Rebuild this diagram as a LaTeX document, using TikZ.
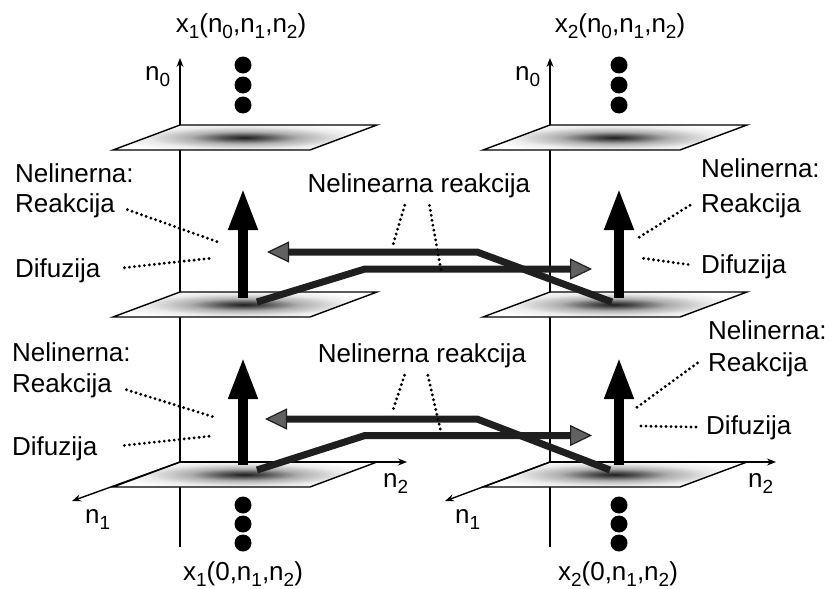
\documentclass[tikz,border=0pt]{standalone}
\usepackage{fontspec}
\setmainfont{Liberation Sans}
\usetikzlibrary{arrows.meta}
\newcommand\ix[1]{\raisebox{-6.5pt}{\fontsize{19}{19}\selectfont #1}}
\pgfdeclareradialshading{spot}{\pgfpoint{0bp}{0bp}}{color(0bp)=(black!88); color(4bp)=(black!68); color(10bp)=(black!32); color(18bp)=(black!8); color(25bp)=(white); color(50bp)=(white)}
\tikzset{
  ax/.style={draw=black,line width=1.4pt},
  axa/.style={ax,-{Stealth[length=9pt,width=7pt]}},
  pln/.style={draw=black,line width=1.4pt},
  dt/.style={circle,fill=black,minimum size=17pt,inner sep=0pt},
  flux/.style={-{Triangle[length=42pt,width=27pt]},line width=10pt,draw=black},
  rxn/.style={-{Triangle[length=22pt,width=21pt,line width=1.2pt,fill=black!62]},line width=7pt,draw=black!88},
  ldr/.style={draw=black,line width=3.2pt,line cap=round,dash pattern=on 0pt off 5pt},
  lb/.style={font=\fontsize{26}{30}\selectfont,inner sep=0pt},
}
% one plane of the lattice, (#1,#2) is its back left corner
\newcommand\plane[2]{%
  \begin{scope}
    \clip (#1,#2) -- ++(197,0) -- ++(-67,25) -- ++(-197,0) -- cycle;
    \fill[white] (#1-70,#2-2) rectangle (#1+200,#2+27);
    \shade[shading=spot] (#1+64,#2+12.5) ellipse (135 and 15);
  \end{scope}
  \draw[pln] (#1,#2) -- ++(197,0) -- ++(-67,25) -- ++(-197,0) -- cycle;}

\begin{document}
\begin{tikzpicture}[x=1pt,y=-1pt]
\useasboundingbox (0,0) rectangle (833,589);
% ---------------- the n0 axes and the planes
\draw[axa] (180,547) -- (180,58);
\draw[axa] (550,547) -- (550,58);
\plane{180}{125} \plane{180}{292} \plane{180}{462}
\plane{550}{125} \plane{550}{292} \plane{550}{462}
\draw[axa] (180,462) -- (407,462);
\draw[axa] (180,462) -- (72,501);
\draw[axa] (550,462) -- (776,462);
\draw[axa] (550,462) -- (445,501);
\node[lb,anchor=base west] (za) at (145,80) {n\ix{0}};
\node[lb,anchor=base west] (zb) at (515,80) {n\ix{0}};
\node[lb,anchor=base west] (va) at (383,487) {n\ix{2}};
\node[lb,anchor=base west] (vb) at (748,487) {n\ix{2}};
\node[lb,anchor=base west] (ua) at (85,523) {n\ix{1}};
\node[lb,anchor=base west] (ub) at (455,523) {n\ix{1}};
% ---------------- the planes not drawn
\foreach \y in {65,85,105,505,524,543} {
  \node[dt] (pa\y) at (243,\y) {};
  \node[dt] (pb\y) at (619,\y) {};
}
\node[lb,anchor=base] (ta) at (241,32) {x\ix{1}(n\ix{0},n\ix{1},n\ix{2})};
\node[lb,anchor=base] (tb) at (620,32) {x\ix{2}(n\ix{0},n\ix{1},n\ix{2})};
\node[lb,anchor=base] (ba) at (243,580) {x\ix{1}(0,n\ix{1},n\ix{2})};
\node[lb,anchor=base] (bb) at (618,580) {x\ix{2}(0,n\ix{1},n\ix{2})};
% ---------------- diffusion and reaction along n0
\coordinate (fa1) at (243,298); \coordinate (ga1) at (243,188);
\coordinate (fb1) at (619,298); \coordinate (gb1) at (619,188);
\coordinate (fa2) at (243,465); \coordinate (ga2) at (243,357);
\coordinate (fb2) at (619,465); \coordinate (gb2) at (619,357);
\draw[flux] (fa1) -- (ga1); \draw[flux] (fb1) -- (gb1);
\draw[flux] (fa2) -- (ga2); \draw[flux] (fb2) -- (gb2);
% ---------------- nonlinear coupling x1 <-> x2
\coordinate (la1) at (612,302); \coordinate (lk1) at (477,252); \coordinate (le1) at (267,252);
\coordinate (ra1) at (257,302); \coordinate (rk1) at (365,269); \coordinate (re1) at (592,269);
\coordinate (la2) at (610,470); \coordinate (lk2) at (477,419); \coordinate (le2) at (265,419);
\coordinate (ra2) at (257,470); \coordinate (rk2) at (365,435.5); \coordinate (re2) at (592,435.5);
\draw[rxn] (la1) -- (lk1) -- (le1);
\draw[rxn] (ra1) -- (rk1) -- (re1);
\draw[rxn] (la2) -- (lk2) -- (le2);
\draw[rxn] (ra2) -- (rk2) -- (re2);
% ---------------- labels
\node[lb,anchor=base west] (na1) at (15,182) {Nelinerna:};
\node[lb,anchor=base west] (ka1) at (15,212) {Reakcija};
\node[lb,anchor=base west] (da1) at (15,277) {Difuzija};
\node[lb,anchor=base west] (na2) at (12,361) {Nelinerna:};
\node[lb,anchor=base west] (ka2) at (12,392) {Reakcija};
\node[lb,anchor=base west] (da2) at (12,455) {Difuzija};
\node[lb,anchor=base west] (nb1) at (701,177) {Nelinerna:};
\node[lb,anchor=base west] (kb1) at (701,212) {Reakcija};
\node[lb,anchor=base west] (db1) at (701,273) {Difuzija};
\node[lb,anchor=base west] (nb2) at (708,339) {Nelinerna:};
\node[lb,anchor=base west] (kb2) at (708,371) {Reakcija};
\node[lb,anchor=base west] (db2) at (706,434) {Difuzija};
\node[lb,anchor=base] (nr1) at (419,192) {Nelinearna reakcija};
\node[lb,anchor=base] (nr2) at (422,362) {Nelinerna reakcija};
% ---------------- dotted leaders
\coordinate (cka1) at (218,242); \coordinate (cda1) at (213,258);
\coordinate (cka2) at (217,418); \coordinate (cda2) at (212,436);
\coordinate (ckb1) at (638,238); \coordinate (cdb1) at (641,258);
\coordinate (ckb2) at (636,408); \coordinate (cdb2) at (640,426);
\draw[ldr,shorten <=13pt] (ka1.east) -- (cka1);
\draw[ldr,shorten <=24pt] (da1.east) -- (cda1);
\draw[ldr,shorten <=15pt] (ka2.east) -- (cka2);
\draw[ldr,shorten <=27pt] (da2.east) -- (cda2);
\draw[ldr,shorten <=13pt] ([yshift=7pt]kb1.west) -- (ckb1);
\draw[ldr,shorten <=13pt] (db1.west) -- (cdb1);
\draw[ldr,shorten <=13pt] ([yshift=9pt]kb2.west) -- (ckb2);
\draw[ldr,shorten <=10pt] (db2.west) -- (cdb2);
\coordinate (cr1) at (392,248); \coordinate (cs1) at (441,270);
\coordinate (cr2) at (393,410); \coordinate (cs2) at (441,432);
\draw[ldr,shorten <=8pt] ([xshift=-12pt]nr1.south) -- (cr1);
\draw[ldr,shorten <=8pt] ([xshift=9pt]nr1.south) -- (cs1);
\draw[ldr,shorten <=8pt] ([xshift=-15pt]nr2.south) -- (cr2);
\draw[ldr,shorten <=8pt] ([xshift=4pt]nr2.south) -- (cs2);
\end{tikzpicture}
\end{document}
